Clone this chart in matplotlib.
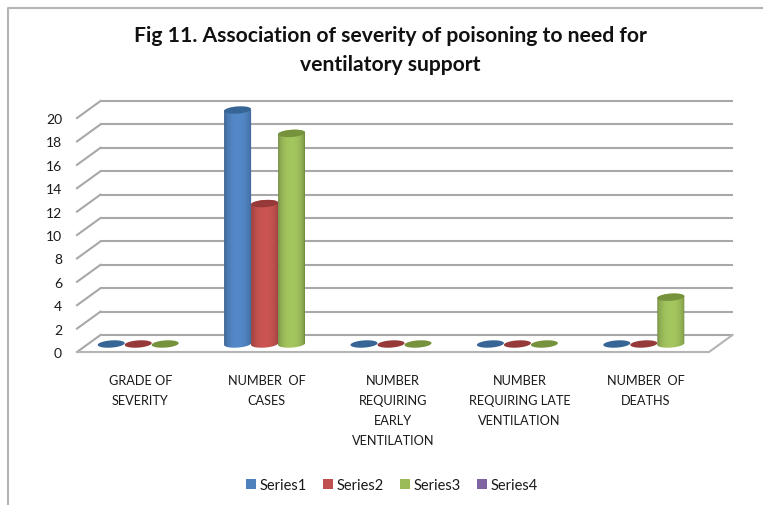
"""Fig 11 - severity of poisoning vs ventilatory support, faux-3D cylinder column chart."""

import numpy as np
import matplotlib
matplotlib.use("Agg")
import matplotlib.pyplot as plt
from matplotlib.colors import to_rgb
from matplotlib.lines import Line2D
from matplotlib.patches import Patch, Polygon

plt.rcParams["font.family"] = ["Lato", "DejaVu Sans"]

categories = ["GRADE OF\nSEVERITY", "NUMBER  OF\nCASES", "NUMBER\nREQUIRING\nEARLY\nVENTILATION",
              "NUMBER\nREQUIRING LATE\nVENTILATION", "NUMBER  OF\nDEATHS"]
series_names = ["Series1", "Series2", "Series3", "Series4"]
series1 = [0, 20, 0, 0, 0]
series2 = [0, 12, 0, 0, 0]
series3 = [0, 18, 0, 0, 4]
series4 = [np.nan, np.nan, np.nan, np.nan, np.nan]  # in the legend but never drawn
y_ticks = list(range(0, 21, 2))

colors = ["#4f81bd", "#c0504d", "#9bbb59", "#8064a2"]
top_colors = ["#376596", "#953a38", "#76923c", "#5f497a"]

W, H = 763, 506
PX_X = 126.4   # pixels per category
PX_Y = 11.7    # pixels per value unit
BAR_W = 27 / PX_X
ELL_H = 3.6 / PX_Y
TILT = 0.9 / PX_Y
# depth of the floor, relative to the plane the cylinders stand on
BACK_DX, BACK_DY = 12 / PX_X, 9 / PX_Y
FRONT_DX, FRONT_DY = 11.5 / PX_X, 8 / PX_Y


def ellipse_xy(cx, cy, t):
    return cx + BAR_W / 2 * np.cos(t), cy + ELL_H * np.sin(t) + TILT * np.cos(t)


def draw_cylinder(ax, cx, value, color, top_color, z):
    t = np.linspace(0, 2 * np.pi, 80)
    if value > 0:
        # body: lower half of base ellipse, then upper half of top ellipse
        xb, yb = ellipse_xy(cx, 0, np.linspace(np.pi, 2 * np.pi, 40))
        xt, yt = ellipse_xy(cx, value, np.linspace(0, np.pi, 40))
        body = Polygon(np.column_stack([np.r_[xb, xt], np.r_[yb, yt]]), closed=True,
                       fc="none", ec="none", zorder=z)
        ax.add_patch(body)
        # horizontal shading, dark at the edges
        u = np.linspace(-1, 1, 64)
        shade = 0.70 + 0.36 * np.sqrt(np.clip(1 - u ** 2, 0, 1))
        grad = np.clip(np.array(to_rgb(color))[None, None, :] * shade[None, :, None], 0, 1)
        im = ax.imshow(grad, extent=[cx - BAR_W / 2, cx + BAR_W / 2, -1, value + 1],
                       aspect="auto", interpolation="bilinear", zorder=z)
        im.set_clip_path(body)
    xe, ye = ellipse_xy(cx, value, t)
    ax.fill(xe, ye, color=top_color, lw=0, zorder=z + 0.1, clip_on=False)


fig = plt.figure(figsize=(W / 100, H / 100), dpi=100, facecolor="white")
# axes: x pixels 88.5-720.5, value 0 at pixel row 345, value -1 at the bottom edge
ax = fig.add_axes([88.5 / W, 1 - (345 + PX_Y) / H, 632 / W, 21 * PX_Y / H])
ax.patch.set_visible(False)
for s in ax.spines.values():
    s.set_visible(False)

# outer chart frame (only top and left are in view)
fig.add_artist(Line2D([7.5 / W, 7.5 / W, 1], [0, 1 - 9 / H, 1 - 9 / H], color="#b4b4b4", lw=1.5))

# back wall gridlines and left diagonals
grid = "#a8a8a8"
xl, xr = -0.5, 4.5
for v in y_ticks:
    ax.plot([xl + BACK_DX, xr + BACK_DX], [v + BACK_DY, v + BACK_DY], color=grid, lw=1.5,
            zorder=1, clip_on=False, solid_capstyle="butt")
    ax.plot([xl - FRONT_DX, xl + BACK_DX], [v - FRONT_DY, v + BACK_DY], color=grid, lw=1.5,
            zorder=1, clip_on=False)
# floor front edge and right diagonal
ax.plot([xl - FRONT_DX, xr - FRONT_DX, xr + BACK_DX], [-FRONT_DY, -FRONT_DY, BACK_DY],
        color="#b4b4b4", lw=1.5, zorder=1, clip_on=False)

n_series = len(series_names)
for s, values in enumerate([series1, series2, series3, series4]):
    for i, v in enumerate(values):
        if np.isnan(v):
            continue
        draw_cylinder(ax, i + (s - (n_series - 1) / 2) * BAR_W, v, colors[s], top_colors[s], 3 + s)

ax.set_xlim(xl, xr)
ax.set_ylim(-1, 20)

ax.set_yticks([v - FRONT_DY for v in y_ticks])
ax.set_yticklabels([str(v) for v in y_ticks], fontsize=10, color="#1a1a1a")
ax.set_xticks([i - FRONT_DX for i in range(len(categories))])
ax.set_xticklabels(categories, fontsize=9.2, color="#1a1a1a", linespacing=1.8)
ax.tick_params(axis="y", length=0, pad=19)
ax.tick_params(axis="x", length=0, pad=13)

fig.text(390 / W, 1 - 50.5 / H, "Fig 11. Association of severity of poisoning to need for\nventilatory support",
         ha="center", va="center", fontsize=15.2, fontweight="bold", color="#111111", linespacing=1.52)

handles = [Patch(fc=c, ec="none") for c in colors]
fig.legend(handles, series_names, loc="center", bbox_to_anchor=(392 / W, 1 - 486 / H), ncol=4,
           frameon=False, fontsize=10.5, handlelength=0.7, handleheight=0.7, handletextpad=0.25,
           columnspacing=1.1, labelcolor="#1a1a1a")

fig.savefig("out.png", dpi=100)
